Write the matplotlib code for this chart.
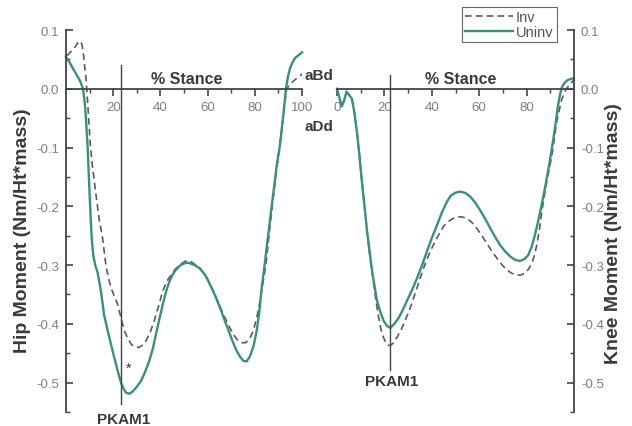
import matplotlib
matplotlib.use("Agg")
import matplotlib.pyplot as plt
from matplotlib.ticker import MultipleLocator, FixedLocator

plt.rcParams["font.family"] = ["Liberation Sans", "DejaVu Sans"]
plt.rcParams["axes.unicode_minus"] = False

# hip moment vs % stance
HIP_UNINV_X = [0, 1.5, 3, 4.5, 6, 7.2, 8, 8.6, 9.2, 9.9, 10.4, 10.9, 11.6, 12.4, 13.4, 14.8,
               16.1, 17.3, 18.4, 19.8, 21.2, 22.3, 23.3, 24.5, 25.4, 26.8, 28.3, 30, 31.8,
               33.5, 35.3, 36.8, 38.1, 39.5, 41, 42.4, 43.8, 45.2, 46.6, 48.3, 50.1, 51.5,
               52.5, 54.5, 56.8, 59, 61, 63.2, 65.3, 67.4, 69.5, 71, 72.3, 73.8, 75.1, 76.5,
               78, 79.5, 80.8, 81.9, 82.9, 84, 85, 86.1, 87.2, 88.3, 89.3, 90.7, 92, 93.2,
               94, 95, 96, 97, 98.5, 100]
HIP_UNINV_Y = [0.054, 0.045, 0.034, 0.024, 0.013, 0.0, -0.025, -0.06, -0.102, -0.17, -0.215,
               -0.255, -0.285, -0.3, -0.313, -0.344, -0.384, -0.405, -0.424, -0.447, -0.469,
               -0.486, -0.5, -0.511, -0.517, -0.519, -0.515, -0.507, -0.497, -0.482, -0.463,
               -0.442, -0.418, -0.393, -0.367, -0.345, -0.328, -0.316, -0.308, -0.301, -0.297,
               -0.296, -0.297, -0.3, -0.306, -0.317, -0.333, -0.352, -0.373, -0.396, -0.418,
               -0.434, -0.446, -0.456, -0.463, -0.464, -0.455, -0.437, -0.412, -0.38, -0.339,
               -0.305, -0.271, -0.235, -0.198, -0.163, -0.13, -0.095, -0.048, 0.0, 0.02,
               0.036, 0.045, 0.052, 0.057, 0.062]

HIP_INV_X = [0.4, 2, 3.8, 5, 6, 6.8, 7.5, 8, 8.5, 9, 9.6, 10.2, 11, 12, 13, 14.1, 15.5, 16.9,
             18, 19.1, 20.5, 21.9, 23, 24, 25, 26.1, 27.5, 28.5, 29.7, 31, 32.5, 33.9, 35.6,
             37.4, 39.2, 41, 42.8, 44.5, 46.3, 48, 49.5, 50.8, 52.5, 54, 56.5, 58.9, 60.6,
             62.4, 64.5, 66.7, 68.8, 70.9, 72.6, 74.4, 76.2, 78, 79.5, 80.8, 81.9, 82.9,
             84.7, 86.2, 87.6, 89.5, 91.5, 93.5, 95, 97.5, 100]
HIP_INV_Y = [0.056, 0.063, 0.071, 0.078, 0.081, 0.075, 0.055, 0.035, 0.017, -0.012, -0.05,
             -0.09, -0.125, -0.158, -0.19, -0.223, -0.254, -0.3, -0.322, -0.339, -0.353,
             -0.367, -0.385, -0.401, -0.414, -0.424, -0.434, -0.438, -0.44, -0.44, -0.436,
             -0.429, -0.415, -0.395, -0.37, -0.344, -0.327, -0.317, -0.307, -0.3, -0.296,
             -0.293, -0.293, -0.297, -0.305, -0.316, -0.329, -0.344, -0.363, -0.384, -0.402,
             -0.418, -0.427, -0.432, -0.432, -0.424, -0.41, -0.39, -0.368, -0.344, -0.3,
             -0.243, -0.192, -0.13, -0.065, 0.0, 0.008, 0.017, 0.025]

# knee moment vs % stance
KNEE_UNINV_X = [0, 1, 2, 3, 4, 5, 6.3, 7.3, 8.4, 9.5, 10.5, 11.6, 12.7, 13.8, 14.8, 15.9,
                16.9, 18.3, 19.7, 21, 22.5, 24.2, 26, 27.8, 29.5, 31.7, 33.8, 36, 38, 40,
                42.2, 44.3, 46.4, 48, 49.8, 51.9, 54, 56.1, 58.2, 60.3, 62.5, 64.6, 66.7,
                68.8, 71, 73, 75.1, 77.2, 79, 80.7, 82.2, 83.5, 84.6, 85.7, 87.8, 89.5, 91.1,
                92.2, 93.2, 94.1, 94.9, 96, 97, 98, 99, 100]
KNEE_UNINV_Y = [0.0, -0.015, -0.03, -0.02, -0.005, -0.01, -0.017, -0.04, -0.073, -0.115,
                -0.158, -0.2, -0.243, -0.278, -0.31, -0.337, -0.361, -0.38, -0.395, -0.403,
                -0.407, -0.4, -0.39, -0.376, -0.361, -0.342, -0.322, -0.299, -0.276, -0.254,
                -0.232, -0.21, -0.192, -0.182, -0.177, -0.175, -0.177, -0.183, -0.193, -0.206,
                -0.221, -0.237, -0.252, -0.266, -0.277, -0.285, -0.291, -0.293, -0.29, -0.283,
                -0.268, -0.249, -0.23, -0.21, -0.168, -0.13, -0.09, -0.06, -0.03, -0.01,
                0.003, 0.01, 0.014, 0.016, 0.017, 0.018]

KNEE_INV_X = [0, 1, 2, 3, 4, 5, 6.3, 7.3, 8.4, 9.5, 10.5, 11.6, 12.7, 14, 15.5, 16.5, 17.6,
              18.6, 19.7, 20.8, 21.8, 22.8, 23.9, 25.6, 27.4, 29.1, 30.9, 33, 35.1, 37.2,
              39.4, 41.5, 43.6, 45, 46.3, 48.4, 50.5, 52.6, 54.7, 56.8, 58.9, 61, 63.2, 65.3,
              67.4, 69.5, 71.6, 73.7, 75.8, 77.5, 79.3, 80.8, 82.2, 83.3, 84.3, 85.4, 86.4,
              87.5, 88.5, 90.7, 92.8, 94.9, 96.5, 98.3, 100]
KNEE_INV_Y = [0.0, -0.015, -0.03, -0.02, -0.005, -0.01, -0.017, -0.04, -0.073, -0.115,
              -0.158, -0.2, -0.243, -0.29, -0.333, -0.362, -0.39, -0.41, -0.424, -0.433,
              -0.437, -0.436, -0.432, -0.421, -0.407, -0.391, -0.373, -0.348, -0.322, -0.298,
              -0.276, -0.259, -0.243, -0.234, -0.228, -0.222, -0.218, -0.218, -0.22, -0.227,
              -0.237, -0.249, -0.263, -0.276, -0.288, -0.299, -0.308, -0.314, -0.317, -0.317,
              -0.314, -0.307, -0.297, -0.283, -0.266, -0.24, -0.209, -0.182, -0.158, -0.113,
              -0.054, -0.017, -0.002, 0.008, 0.015]

HIP_XTICKS = [20, 40, 60, 80, 100]
KNEE_XTICKS = [0, 20, 40, 60, 80]
MINOR_XTICKS = [10, 30, 50, 70, 90]
YTICKS = [0.1, 0.0, -0.1, -0.2, -0.3, -0.4, -0.5]

HIP_PKAM1 = 23.3
KNEE_PKAM1 = 22.4

TEAL = "#3a8f7e"
DASH = "#5a5a5a"
DARK = "#444444"
TICKCOL = "#808080"

fig = plt.figure(figsize=(6.32, 4.27), dpi=100)
ax_hip = fig.add_axes([66 / 632, 14 / 427, 236 / 632, 382 / 427])
ax_knee = fig.add_axes([337 / 632, 14 / 427, 237 / 632, 382 / 427])


def style_axis(ax, side, xticks):
    ax.set_xlim(0, 100)
    ax.set_ylim(-0.55, 0.1)
    ax.patch.set_visible(False)
    for s in ["top", "left", "right"]:
        ax.spines[s].set_visible(s == side)
    ax.spines[side].set_color(DARK)
    ax.spines[side].set_linewidth(1.3)
    ax.spines["bottom"].set_position(("data", 0))
    ax.spines["bottom"].set_color(DARK)
    ax.spines["bottom"].set_linewidth(1.3)
    ax.set_xticks(xticks)
    ax.set_xticklabels([str(t) for t in xticks])
    ax.xaxis.set_minor_locator(FixedLocator(MINOR_XTICKS))
    ax.set_yticks(YTICKS)
    ax.set_yticklabels([f"{t:.1f}" for t in YTICKS])
    ax.yaxis.set_minor_locator(MultipleLocator(0.05))
    if side == "right":
        ax.yaxis.tick_right()
    ax.tick_params(axis="x", which="major", direction="out", length=5, width=1.2,
                   color=DARK, labelsize=9.5, labelcolor=TICKCOL, pad=4)
    ax.tick_params(axis="x", which="minor", direction="out", length=3, width=1.0, color=DARK)
    ax.tick_params(axis="y", which="major", direction="in", length=5, width=1.2,
                   color=DARK, labelsize=9.5, labelcolor=TICKCOL, pad=5)
    ax.tick_params(axis="y", which="minor", direction="in", length=3, width=1.0, color=DARK)


style_axis(ax_hip, "left", HIP_XTICKS)
style_axis(ax_knee, "right", KNEE_XTICKS)

inv_line, = ax_hip.plot(HIP_INV_X, HIP_INV_Y, color=DASH, lw=1.2, ls=(0, (4, 2.5)),
                        label="Inv", clip_on=False)
uninv_line, = ax_hip.plot(HIP_UNINV_X, HIP_UNINV_Y, color=TEAL, lw=1.7, label="Uninv",
                          clip_on=False)
ax_knee.plot(KNEE_INV_X, KNEE_INV_Y, color=DASH, lw=1.2, ls=(0, (4, 2.5)), clip_on=False)
ax_knee.plot(KNEE_UNINV_X, KNEE_UNINV_Y, color=TEAL, lw=1.7, clip_on=False)

ax_hip.plot([HIP_PKAM1, HIP_PKAM1], [0.04, -0.537], color=DARK, lw=1.0, clip_on=False)
ax_knee.plot([KNEE_PKAM1, KNEE_PKAM1], [0.024, -0.478], color=DARK, lw=1.0, clip_on=False)

bold = dict(fontweight="bold", color="#3a3a3a")
ax_hip.text(51.3, 0.017, "% Stance", fontsize=11.5, ha="center", va="center", **bold)
ax_knee.text(52.3, 0.017, "% Stance", fontsize=11.5, ha="center", va="center", **bold)
ax_hip.text(107, 0.024, "aBd", fontsize=11, ha="center", va="center", clip_on=False, **bold)
ax_hip.text(107, -0.064, "aDd", fontsize=11, ha="center", va="center", clip_on=False, **bold)
ax_hip.text(24.6, -0.562, "PKAM1", fontsize=11, ha="center", va="center", clip_on=False, **bold)
ax_knee.text(23.2, -0.497, "PKAM1", fontsize=11, ha="center", va="center", **bold)
ax_hip.text(26.3, -0.474, "*", fontsize=10, ha="center", va="center", color="#333333")

fig.text(23 / 632, 1 - 231 / 427, "Hip Moment (Nm/Ht*mass)", rotation=90, fontsize=14,
         ha="center", va="center", **bold)
fig.text(613 / 632, 1 - 234 / 427, "Knee Moment (Nm/Ht*mass)", rotation=90, fontsize=14,
         ha="center", va="center", **bold)

leg = fig.legend([inv_line, uninv_line], ["Inv", "Uninv"], loc="upper left",
                 bbox_to_anchor=(462 / 632, 1 - 8 / 427), fontsize=10.5, frameon=True,
                 fancybox=False, framealpha=1, edgecolor="#666666", handlelength=3.3,
                 handletextpad=0.2, borderpad=0.2, labelspacing=0.1, borderaxespad=0)
leg.get_frame().set_linewidth(0.8)
for t in leg.get_texts():
    t.set_color("#555555")

fig.savefig("out.png", dpi=100)
